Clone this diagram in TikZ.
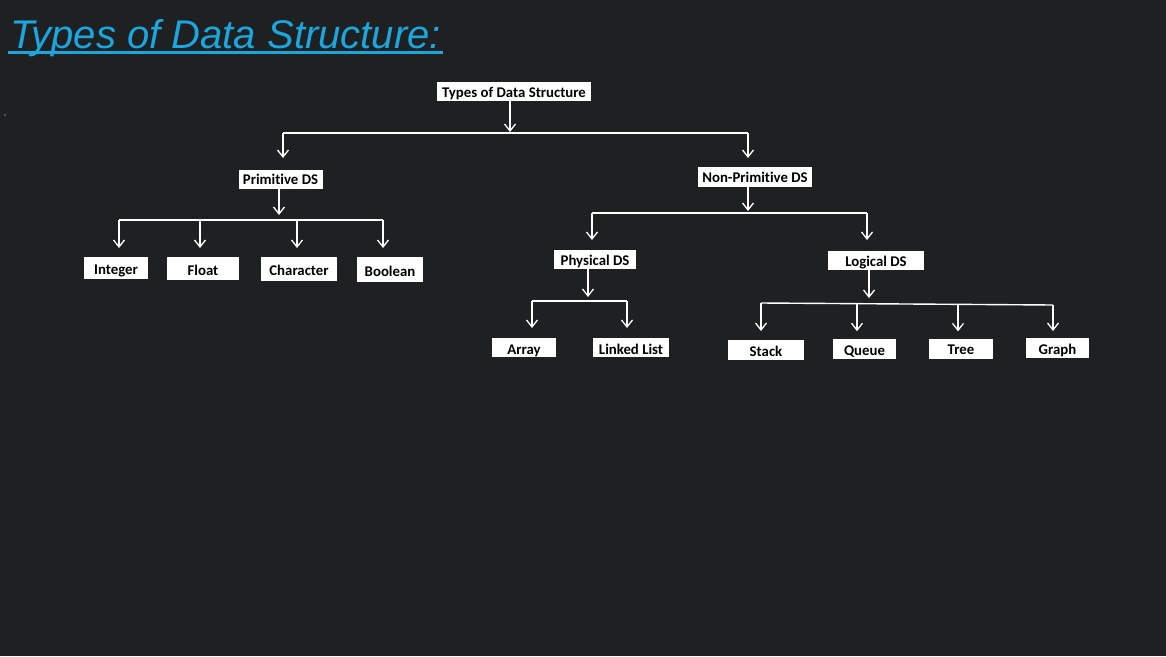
\documentclass[tikz,border=0pt]{standalone}
\usepackage{fontspec}
\setmainfont{Carlito}[Ligatures=CommonOff]
\newfontfamily\titlefont{Liberation Sans}
\usetikzlibrary{arrows.meta}
\definecolor{bg}{HTML}{1E2022}
\definecolor{titleblue}{HTML}{1BA6DE}
\tikzset{
  dsbox/.style={fill=white, draw=none, inner sep=0pt, text=black,
    text height=11pt, text depth=0pt,
    font=\fontsize{14.8}{16}\selectfont\bfseries},
  leafbox/.style={dsbox, text height=13pt},
  conn/.style={draw=white, line width=1.4pt},
  arr/.style={conn, -{Straight Barb[length=7pt,width=11pt,line width=1.3pt]}},
}
\begin{document}
\begin{tikzpicture}[x=1pt,y=-1pt]
\fill[bg] (0,0) rectangle (1166,656);
\useasboundingbox (0,0) rectangle (1166,656);

% title
\node[anchor=base west, inner sep=0pt, text=titleblue,
  font=\titlefont\itshape\fontsize{40}{44}\selectfont] (title) at (10,48) {Types of Data Structure:};
\draw[titleblue, line width=2.2pt] ([xshift=-2pt,yshift=-4.5pt]title.base west) -- ([xshift=2pt,yshift=-4.5pt]title.base east);
\fill[white] (5,115) circle (0.6pt);

% boxes
\node[dsbox, minimum width=154pt, minimum height=19pt] (top) at (514,91.5) {Types of Data Structure};
\node[dsbox, minimum width=84pt, minimum height=19pt] (prim) at (280.5,179) {Primitive DS};
\node[dsbox, minimum width=114pt, minimum height=20pt] (nonprim) at (755,177) {Non-Primitive DS};
\node[leafbox, minimum width=64pt, minimum height=22pt] (int) at (116,268) {Integer};
\node[leafbox, minimum width=72pt, minimum height=23pt] (float) at (203,268.5) {Float};
\node[leafbox, minimum width=76pt, minimum height=24pt] (char) at (299,269) {Character};
\node[leafbox, minimum width=66pt, minimum height=25pt, text height=14pt] (bool) at (390,269.5) {Boolean};
\node[dsbox, minimum width=82pt, minimum height=19pt, text height=12.5pt] (phys) at (595,259.5) {Physical DS};
\node[dsbox, minimum width=96pt, minimum height=19pt] (logi) at (876,260.5) {Logical DS};
\node[leafbox, minimum width=64pt, minimum height=19pt] (array) at (524,347.5) {Array};
\node[leafbox, minimum width=76pt, minimum height=19pt] (llist) at (631,347.5) {Linked List};
\node[leafbox, minimum width=76pt, minimum height=20pt] (stack) at (766,350) {Stack};
\node[leafbox, minimum width=63pt, minimum height=20pt] (queue) at (864.5,349) {Queue};
\node[leafbox, minimum width=64pt, minimum height=20pt, text height=11pt] (tree) at (961,349) {Tree};
\node[leafbox, minimum width=63pt, minimum height=20pt, text height=12pt] (graph) at (1057.5,348) {Graph};

% group: top
\coordinate (a0) at (510,132);
\coordinate (aL) at (283,133);
\coordinate (aR) at (748,133);
\coordinate (aLt) at (283,158);
\coordinate (aRt) at (748,158);
\draw[arr] (top.south -| a0) -- (a0);
\draw[conn] (aL) -- (aR);
\draw[arr] (aL) -- (aLt);
\draw[arr] (aR) -- (aRt);

% group: primitive
\coordinate (b0) at (279,215);
\coordinate (bL) at (119,220);
\coordinate (bR) at (383,220);
\coordinate (b1) at (200,220);
\coordinate (b2) at (297,220);
\draw[arr] (prim.south -| b0) -- (b0);
\draw[conn] (bL) -- (bR);
\draw[arr] (bL) -- ++(0,28);
\draw[arr] (b1) -- ++(0,28);
\draw[arr] (b2) -- ++(0,28);
\draw[arr] (bR) -- ++(0,28);

% group: non-primitive
\coordinate (c0) at (748,211);
\coordinate (cL) at (592,213);
\coordinate (cR) at (867,213);
\draw[arr] (nonprim.south -| c0) -- (c0);
\draw[conn] (cL) -- (cR);
\draw[arr] (cL) -- ++(0,27);
\draw[arr] (cR) -- ++(0,27);

% group: physical
\coordinate (d0) at (588,297);
\coordinate (dL) at (532,301);
\coordinate (dR) at (627,301);
\draw[arr] (phys.south -| d0) -- (d0);
\draw[conn] (dL) -- (dR);
\draw[arr] (dL) -- ++(0,27);
\draw[arr] (dR) -- ++(0,27);

% group: logical
\coordinate (e0) at (869,298);
\coordinate (eL) at (761,303);
\coordinate (eR) at (1053,305);
\coordinate (e1) at (857,303.7);
\coordinate (e2) at (958,304.4);
\draw[arr] (logi.south -| e0) -- (e0);
\draw[conn] (eL) -- (eR);
\draw[arr] (eL) -- ++(0,28);
\draw[arr] (e1) -- ++(0,27.5);
\draw[arr] (e2) -- ++(0,27);
\draw[arr] (eR) -- ++(0,26);
\end{tikzpicture}
\end{document}
